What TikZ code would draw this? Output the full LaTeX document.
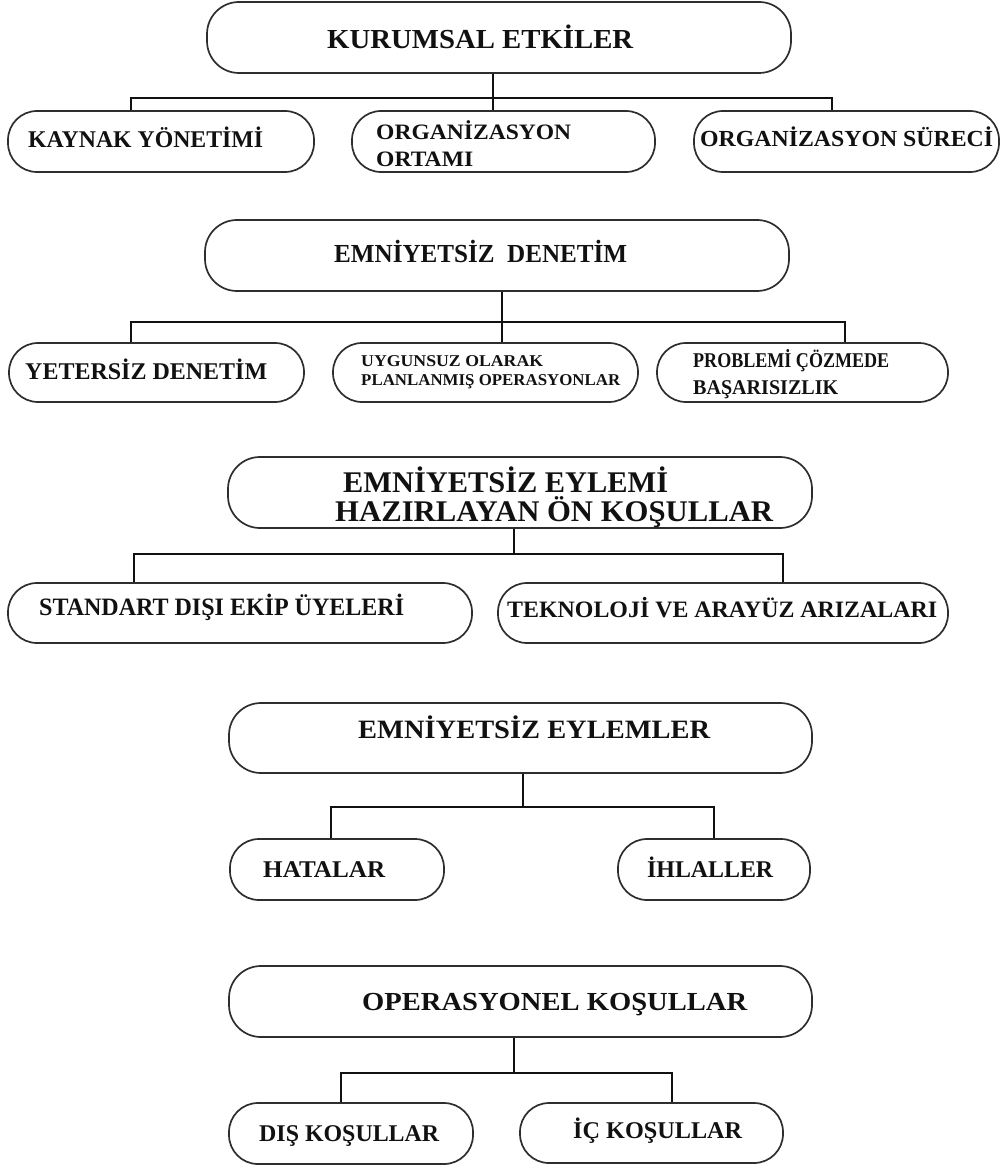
\documentclass[tikz,border=0pt]{standalone}
\usepackage{fontspec}
\usepackage{graphicx}
\setmainfont{Liberation Serif}
\definecolor{edge}{HTML}{2E2E2E}
\definecolor{ink}{HTML}{111111}
\tikzset{
  bx/.style={draw=edge, line width=1.7pt, rounded corners=32pt, inner sep=0pt, fill=white},
  bxs/.style={bx, rounded corners=29pt},
  lbl/.style={anchor=base west, inner sep=0pt, text=ink},
  wire/.style={draw=ink, line width=1.3pt}
}
\newcommand\lab[6]{\node[lbl] (#1) at (#2,#3) {\resizebox{#4pt}{\height}{\fontsize{#5pt}{#5pt}\selectfont\bfseries #6}};}
\begin{document}
\begin{tikzpicture}[x=1pt,y=-1pt]
\useasboundingbox[fill=white] (0,0) rectangle (1004,1166);

% ---------- boxes ----------
\node[bx, minimum width=584pt, minimum height=71pt] (top1) at (499,37.5) {};
\node[bxs, minimum width=306pt, minimum height=61pt] (c11) at (161,141.5) {};
\node[bxs, minimum width=303pt, minimum height=61pt] (c12) at (503.5,141.5) {};
\node[bxs, minimum width=305pt, minimum height=61pt] (c13) at (846.5,141.5) {};

\node[bx, minimum width=584pt, minimum height=71pt] (top2) at (497,255.5) {};
\node[bxs, minimum width=295pt, minimum height=59pt] (c21) at (156.5,372.5) {};
\node[bxs, minimum width=305pt, minimum height=59pt] (c22) at (485.5,372.5) {};
\node[bxs, minimum width=291pt, minimum height=59pt] (c23) at (802.5,372.5) {};

\node[bx, minimum width=584pt, minimum height=71pt] (top3) at (520,492.5) {};
\node[bxs, minimum width=464pt, minimum height=60pt] (c31) at (240,613) {};
\node[bxs, minimum width=450pt, minimum height=60pt] (c32) at (723,613) {};

\node[bx, minimum width=583pt, minimum height=70pt] (top4) at (520.5,738) {};
\node[bxs, minimum width=214pt, minimum height=61pt] (c41) at (337,869.5) {};
\node[bxs, minimum width=192pt, minimum height=61pt] (c42) at (714,869.5) {};

\node[bx, minimum width=583pt, minimum height=71pt] (top5) at (520.5,1001.5) {};
\node[bxs, minimum width=244pt, minimum height=61pt] (c51) at (351,1133.5) {};
\node[bxs, minimum width=263pt, minimum height=60pt] (c52) at (651.5,1133) {};

% ---------- connectors ----------
\coordinate (d11) at (131,98);
\coordinate (d12) at (493,98);
\coordinate (d13) at (832,98);
\draw[wire] (d11 |- c11.north) -- (d11) -- (d13) -- (d13 |- c13.north);
\draw[wire] (d12 |- top1.south) -- (d12 |- c12.north);

\coordinate (d21) at (131,322);
\coordinate (d22) at (502,322);
\coordinate (d23) at (845,322);
\draw[wire] (d21 |- c21.north) -- (d21) -- (d23) -- (d23 |- c23.north);
\draw[wire] (d22 |- top2.south) -- (d22 |- c22.north);

\coordinate (d31) at (134,554);
\coordinate (d32) at (514,554);
\coordinate (d33) at (783,554);
\draw[wire] (d31 |- c31.north) -- (d31) -- (d33) -- (d33 |- c32.north);
\draw[wire] (d32 |- top3.south) -- (d32);

\coordinate (d41) at (331,807);
\coordinate (d42) at (523,807);
\coordinate (d43) at (714,807);
\draw[wire] (d41 |- c41.north) -- (d41) -- (d43) -- (d43 |- c42.north);
\draw[wire] (d42 |- top4.south) -- (d42);

\coordinate (d51) at (341,1073);
\coordinate (d52) at (514,1073);
\coordinate (d53) at (672,1073);
\draw[wire] (d51 |- c51.north) -- (d51) -- (d53) -- (d53 |- c52.north);
\draw[wire] (d52 |- top5.south) -- (d52);

% ---------- labels ----------
\lab{t1}{327}{48.3}{306}{27.5}{KURUMSAL ETKİLER}
\lab{t11}{28}{148}{235}{24}{KAYNAK YÖNETİMİ}
\lab{t12a}{376}{140}{195}{22}{ORGANİZASYON}
\lab{t12b}{376}{167}{97}{22}{ORTAMI}
\lab{t13}{700}{147}{293}{23}{ORGANİZASYON SÜRECİ}

\lab{t2}{334}{262}{293}{26}{EMNİYETSİZ\ \ DENETİM}
\lab{t21}{25}{379}{242}{24}{YETERSİZ DENETİM}
\lab{t22a}{361}{366}{182}{16.5}{UYGUNSUZ OLARAK}
\lab{t22b}{361}{385}{259}{16.5}{PLANLANMIŞ OPERASYONLAR}
\lab{t23a}{693}{367}{196}{21}{PROBLEMİ ÇÖZMEDE}
\lab{t23b}{693}{394}{145}{21}{BAŞARISIZLIK}

\lab{t3a}{343}{492}{325}{30}{EMNİYETSİZ EYLEMİ}
\lab{t3b}{335}{521}{438}{30}{HAZIRLAYAN ÖN KOŞULLAR}
\lab{t31}{39}{615}{365}{25}{STANDART DIŞI EKİP ÜYELERİ}
\lab{t32}{507}{617}{430}{23.5}{TEKNOLOJİ VE ARAYÜZ ARIZALARI}

\lab{t4}{358}{738}{352}{26.5}{EMNİYETSİZ EYLEMLER}
\lab{t41}{263}{877}{122}{24}{HATALAR}
\lab{t42}{647}{877}{126}{24}{İHLALLER}

\lab{t5}{362}{1010}{385}{26}{OPERASYONEL KOŞULLAR}
\lab{t51}{259}{1141}{180}{24}{DIŞ KOŞULLAR}
\lab{t52}{573}{1138}{169}{24}{İÇ KOŞULLAR}
\end{tikzpicture}
\end{document}
